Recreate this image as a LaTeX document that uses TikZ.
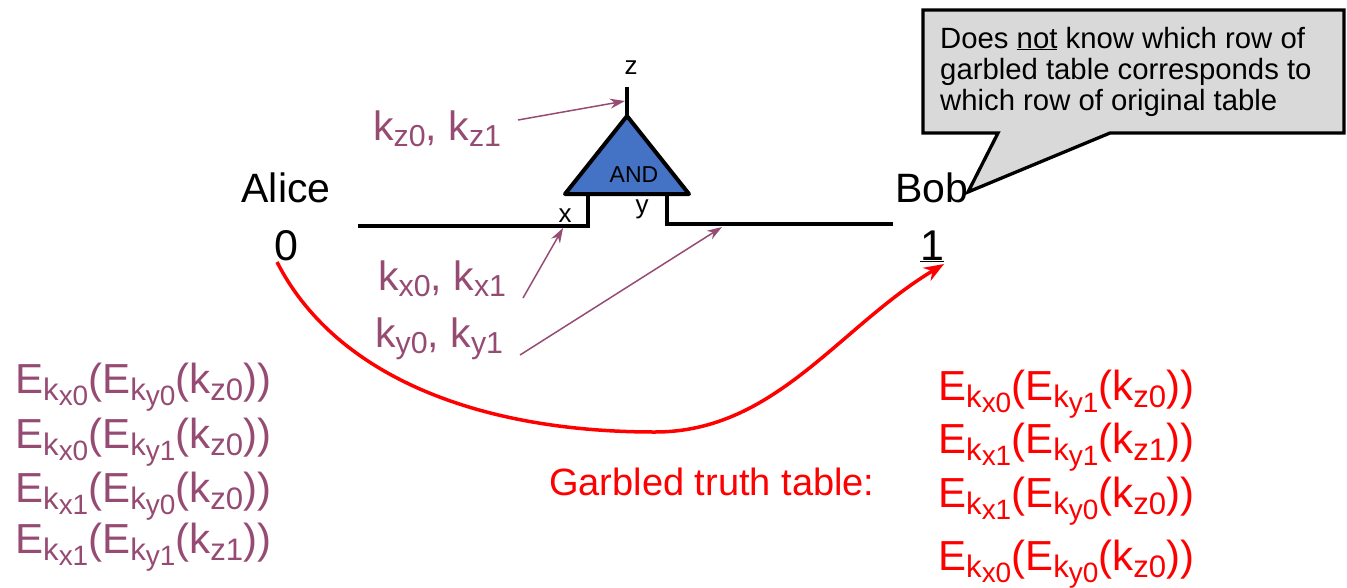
\documentclass[tikz,border=0pt]{standalone}
\usepackage{fontspec}
\setmainfont{Liberation Sans}
\usepackage{graphicx}
\usetikzlibrary{arrows.meta}
\definecolor{plum}{RGB}{150,75,115}
\definecolor{gateblue}{RGB}{68,114,196}
\definecolor{boxgray}{RGB}{217,217,217}
\newcommand\fs[1]{\fontsize{#1}{#1}\selectfont}
\newcommand\sbt[1]{\raisebox{-0.17em}{\scalebox{0.74}{#1}}}
\newcommand\sbb[1]{\raisebox{-0.17em}{\scalebox{0.9}{#1}}}
\newcommand\Ek[3]{E\sbt{k\sbb{x#1}}(E\sbt{k\sbb{y#2}}(k\sbt{z#3}))}
\tikzset{
  lbl/.style={inner sep=0pt, anchor=base west},
  clbl/.style={inner sep=0pt, anchor=base},
  wire/.style={line width=4pt, line cap=butt, line join=miter},
  keyarrow/.style={draw=plum, line width=1.5pt, -{Stealth[length=15pt,width=10pt]}},
  redarrow/.style={draw=red, line width=3.5pt, line join=round, -{Stealth[length=20pt,width=15pt]}},
}
\begin{document}
\begin{tikzpicture}[x=1pt,y=-1pt]
\useasboundingbox (0,0) rectangle (1347,587);

% gate
\coordinate (apex) at (627,116);
\coordinate (bl) at (565,194);
\coordinate (br) at (689,194);
\coordinate (ztop) at (627,87);
\coordinate (xin) at (588,194);
\coordinate (xcorner) at (588,226);
\coordinate (xend) at (358,226);
\coordinate (yin) at (667,194);
\coordinate (ycorner) at (667,224);
\coordinate (yend) at (893,224);
\draw[wire] (ztop) -- (apex);
\draw[wire] (xin) -- (xcorner) -- (xend);
\draw[wire] (yin) -- (ycorner) -- (yend);
\draw[wire, fill=gateblue, line join=round] (apex) -- (br) -- (bl) -- cycle;
\node[clbl, font=\fs{23}] (and) at (634,182) {AND};
\node[clbl, font=\fs{26}] (zl) at (631,74) {z};
\node[clbl, font=\fs{26}] (xl) at (565,222) {x};
\node[clbl, font=\fs{26}] (yl) at (642,213) {y};

% parties
\node[clbl, font=\fs{41}] (alice) at (286,202) {Alice};
\node[clbl, font=\fs{43}] (zero) at (286,260) {0};
\node[clbl, font=\fs{41}] (bob) at (932,202) {Bob};
\node[clbl, font=\fs{43}] (one) at (932,260) {\underline{1}};

% key labels
\node[lbl, font=\fs{41}, text=plum] (kz) at (373,140) {k\sbt{z0}, k\sbt{z1}};
\node[lbl, font=\fs{41}, text=plum] (kx) at (378,290) {k\sbt{x0}, k\sbt{x1}};
\node[lbl, font=\fs{41}, text=plum] (ky) at (375,347) {k\sbt{y0}, k\sbt{y1}};
\coordinate (kzt) at (518,120);
\coordinate (kzh) at (625,101);
\coordinate (kxt) at (523,298);
\coordinate (kxh) at (563,228);
\coordinate (kyt) at (520,355);
\coordinate (kyh) at (722,227);
\draw[keyarrow] (kzt) -- (kzh);
\draw[keyarrow] (kxt) -- (kxh);
\draw[keyarrow] (kyt) -- (kyh);

% red transfer curve
\coordinate (rs) at (277,262);
\coordinate (rb) at (655,432);
\coordinate (re) at (944,264);
\draw[redarrow] (rs) .. controls (334,374) and (475,432) .. (rb)
  .. controls (775,432) and (839,327) .. (re);

% callout
\draw[line width=3.3pt, fill=boxgray, line join=miter]
  (923,10) -- (1344,10) -- (1344,133) -- (1110,133) -- (968,192) -- (998,133) -- (923,133) -- cycle;
\node[lbl, font=\fs{29.3}] (n1) at (940,48) {Does \underline{not} know which row of};
\node[lbl, font=\fs{29.3}] (n2) at (940,79) {garbled table corresponds to};
\node[lbl, font=\fs{29.3}] (n3) at (940,110) {which row of original table};

% original table
\node[lbl, font=\fs{42}, text=plum] (o1) at (15,393) {\Ek000};
\node[lbl, font=\fs{42}, text=plum] (o2) at (15,448) {\Ek010};
\node[lbl, font=\fs{42}, text=plum] (o3) at (15,502) {\Ek100};
\node[lbl, font=\fs{42}, text=plum] (o4) at (15,553) {\Ek111};

% garbled table
\node[lbl, font=\fs{38}, text=red] (gt) at (549,495) {Garbled truth table:};
\node[lbl, font=\fs{42}, text=red] (g1) at (938,400) {\Ek010};
\node[lbl, font=\fs{42}, text=red] (g2) at (938,453) {\Ek111};
\node[lbl, font=\fs{42}, text=red] (g3) at (938,507) {\Ek100};
\node[lbl, font=\fs{42}, text=red] (g4) at (938,570) {\Ek000};
\end{tikzpicture}
\end{document}
